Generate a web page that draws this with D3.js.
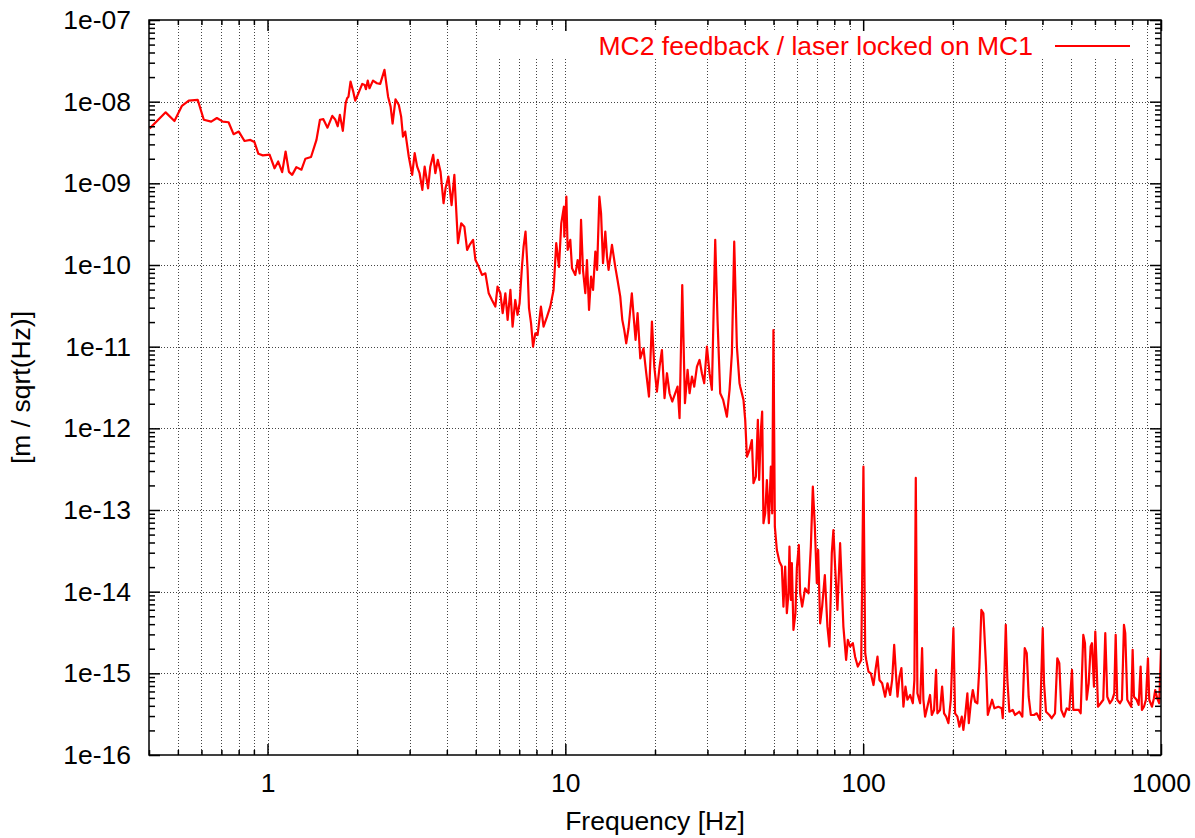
<!DOCTYPE html>
<html>
<head>
<meta charset="utf-8">
<script src="https://cdn.jsdelivr.net/npm/d3@7"></script>
<style>
  body { margin: 0; background: #fff; }
  svg { display: block; font-family: "Liberation Sans", Arial, sans-serif; }
</style>
</head>
<body>
<svg id="chart" width="1195" height="838"></svg>
<script>
// frequency [Hz] of each sample
const freq = [
  0.402, 0.455, 0.487, 0.516, 0.544, 0.583, 0.611, 0.647, 0.676, 0.708,
  0.740, 0.769, 0.801, 0.837, 0.876, 0.904, 0.932, 0.964, 1.016, 1.056,
  1.086, 1.12, 1.15, 1.18, 1.21, 1.25, 1.30, 1.34, 1.40, 1.46,
  1.50, 1.54, 1.59, 1.65, 1.69, 1.72, 1.75, 1.79, 1.83, 1.85,
  1.87, 1.90, 1.94, 1.97, 2.02, 2.08, 2.12, 2.14, 2.17, 2.20,
  2.26, 2.33, 2.39, 2.47, 2.54, 2.59, 2.63, 2.69, 2.76, 2.81,
  2.85, 2.90, 2.98, 3.06, 3.12, 3.18, 3.24, 3.31, 3.37, 3.46,
  3.52, 3.60, 3.66, 3.73, 3.81, 3.90, 3.96, 4.05, 4.15, 4.24,
  4.36, 4.47, 4.58, 4.68, 4.77, 4.90, 4.99, 5.12, 5.25, 5.39,
  5.53, 5.67, 5.82, 5.92, 6.05, 6.16, 6.29, 6.40, 6.54, 6.65,
  6.79, 6.91, 7.02, 7.15, 7.24, 7.35, 7.47, 7.55, 7.67, 7.79,
  7.93, 8.07, 8.28, 8.45, 8.68, 8.90, 9.13, 9.32, 9.52, 9.69,
  9.89, 9.92, 10.08, 10.18, 10.39, 10.53, 10.80, 11.00, 11.17, 11.29,
  11.46, 11.67, 11.82, 12.01, 12.20, 12.39, 12.61, 12.78, 13.01, 13.18,
  13.38, 13.62, 13.80, 13.97, 14.34, 14.71, 14.97, 15.29, 15.53, 15.77,
  16.01, 16.30, 16.72, 16.94, 17.21, 17.48, 17.85, 18.30, 18.69, 19.09,
  19.53, 19.89, 20.30, 20.72, 21.10, 21.53, 21.94, 22.38, 22.85, 23.39,
  23.81, 24.18, 24.69, 25.21, 25.73, 26.13, 26.61, 27.09, 27.66, 28.22,
  28.74, 29.26, 29.88, 30.49, 31.05, 31.86, 32.43, 33.11, 33.88, 34.87,
  35.59, 36.24, 36.90, 37.67, 38.44, 38.65, 39.64, 40.17, 40.70, 41.53,
  42.30, 42.82, 43.62, 44.30, 44.75, 45.35, 45.80, 46.26, 46.88, 47.50,
  48.24, 48.97, 49.49, 49.97, 50.52, 51.31, 52.36, 53.32, 53.99, 54.71,
  55.43, 56.13, 56.56, 57.18, 57.62, 58.33, 59.24, 59.88, 60.81, 61.43,
  62.39, 63.85, 65.51, 66.73, 67.76, 68.82, 69.89, 70.60, 71.70, 72.82,
  74.35, 75.86, 77.05, 78.46, 79.44, 80.50, 81.95, 83.67, 85.82, 87.65,
  88.81, 90.40, 92.33, 93.95, 95.93, 98.52, 100.2, 101.6, 102.4, 104.2,
  106.1, 108.3, 110.0, 111.7, 113.4, 115.8, 118.5, 120.7, 123.2, 125.1,
  127.1, 128.8, 130.4, 132.4, 134.4, 136.5, 138.7, 140.8, 143.8, 146.8,
  148.6, 150.2, 152.1, 155.3, 157.7, 159.3, 161.4, 164.3, 167.7, 170.0,
  173.0, 175.7, 177.5, 181.2, 184.1, 186.9, 189.9, 193.3, 196.9, 200.9,
  203.5, 207.2, 210.4, 214.3, 217.0, 220.4, 223.8, 226.3, 229.8, 233.4,
  237.6, 241.8, 245.6, 249.4, 253.3, 258.6, 262.1, 266.8, 270.9, 275.8,
  284.4, 291.9, 294.2, 297.2, 301.2, 304.9, 309.6, 317.9, 323.6, 334.5,
  342.3, 348.7, 354.2, 359.5, 365.5, 374.7, 382.6, 392.5, 400.8, 404.8,
  411.1, 421.9, 429.5, 440.7, 448.6, 455.6, 462.6, 472.5, 482.4, 492.2,
  502.5, 507.6, 518.3, 529.2, 537.4, 548.4, 555.6, 563.0, 571.8, 580.5,
  586.5, 595.6, 601.7, 608.1, 614.3, 627.3, 640.0, 650.0, 660.1, 673.8,
  686.1, 696.8, 704.4, 713.2, 728.2, 739.5, 751.0, 758.6, 770.5, 782.2,
  794.4, 803.1, 811.3, 828.3, 841.3, 854.3, 863.0, 876.5, 890.1, 904.0,
  913.2, 932.3, 946.8, 956.4, 971.3, 986.5, 1000
];

// amplitude spectral density [m / sqrt(Hz)]
const asd = [
  4.7e-9, 7.4e-9, 5.8e-9, 8.9e-9, 1.03e-8, 1.05e-8, 6.0e-9, 5.7e-9, 6.3e-9, 5.7e-9,
  5.6e-9, 4.0e-9, 4.3e-9, 3.3e-9, 3.4e-9, 3.2e-9, 2.3e-9, 2.2e-9, 2.25e-9, 1.53e-9,
  1.85e-9, 1.37e-9, 2.45e-9, 1.38e-9, 1.27e-9, 1.58e-9, 1.47e-9, 2.0e-9, 2.1e-9, 3.4e-9,
  6.0e-9, 6.1e-9, 4.8e-9, 6.7e-9, 6.0e-9, 5.0e-9, 6.9e-9, 4.4e-9, 9.6e-9, 1.10e-8,
  1.15e-8, 1.76e-8, 1.33e-8, 1.03e-8, 1.27e-8, 1.65e-8, 1.60e-8, 1.42e-8, 1.81e-8, 1.46e-8,
  1.81e-8, 1.68e-8, 1.65e-8, 2.45e-8, 1.15e-8, 8.7e-9, 5.4e-9, 1.07e-8, 9.1e-9, 6.56e-9,
  3.73e-9, 4.30e-9, 2.13e-9, 1.27e-9, 2.34e-9, 1.60e-9, 1.33e-9, 8.3e-10, 1.60e-9, 8.7e-10,
  1.60e-9, 2.23e-9, 1.33e-9, 1.94e-9, 1.39e-9, 5.7e-10, 8.7e-10, 1.21e-9, 5.4e-10, 1.27e-9,
  1.85e-10, 3.24e-10, 2.95e-10, 1.53e-10, 1.76e-10, 2.03e-10, 1.15e-10, 9.5e-11, 7.55e-11, 7.9e-11,
  4.5e-11, 3.73e-11, 3.1e-11, 5.43e-11, 4.51e-11, 2.57e-11, 4.51e-11, 2.13e-11, 4.95e-11, 1.76e-11,
  3.73e-11, 2.45e-11, 3.40e-11, 9.5e-11, 1.68e-10, 2.57e-10, 8.7e-11, 2.96e-11, 1.94e-11, 1.0e-11,
  1.46e-11, 1.39e-11, 3.09e-11, 1.76e-11, 2.33e-11, 3.09e-11, 4.95e-11, 1.85e-10, 9.5e-11, 3.24e-10,
  5.17e-10, 2.22e-10, 6.86e-10, 1.53e-10, 2.03e-10, 9.1e-11, 7.55e-11, 1.15e-10, 7.9e-11, 3.56e-10,
  8.7e-11, 4.51e-11, 1.15e-10, 2.82e-11, 7.2e-11, 4.95e-11, 1.46e-10, 8.7e-11, 6.86e-10, 4.30e-10,
  1.05e-10, 2.57e-10, 1.27e-10, 8.7e-11, 1.76e-10, 9.5e-11, 6.56e-11, 4.1e-11, 2.13e-11, 1.60e-11,
  1.10e-11, 1.68e-11, 4.51e-11, 2.45e-11, 1.21e-11, 2.57e-11, 7.2e-12, 9.56e-12, 4.73e-12, 2.45e-12,
  2.03e-11, 5.69e-12, 2.82e-12, 5.69e-12, 9.1e-12, 2.34e-12, 4.73e-12, 2.69e-12, 2.13e-12, 2.69e-12,
  3.24e-12, 1.33e-12, 5.69e-11, 2.03e-12, 5.2e-12, 2.69e-12, 4.30e-12, 3.24e-12, 5.69e-12, 6.88e-12,
  4.73e-12, 3.57e-12, 1.0e-11, 4.73e-12, 2.96e-12, 2.03e-10, 2.13e-11, 2.69e-12, 2.23e-12, 1.39e-12,
  2.96e-12, 8.3e-12, 1.93e-10, 1.0e-11, 3.57e-12, 3.24e-12, 2.23e-12, 1.27e-12, 4.49e-13, 5.43e-13,
  7.19e-13, 2.13e-13, 2.57e-13, 1.27e-12, 2.33e-13, 9.5e-13, 1.60e-12, 6.88e-14, 9.1e-14, 2.33e-13,
  6.88e-14, 3.39e-13, 9.1e-14, 1.60e-11, 6.25e-14, 3.24e-14, 2.33e-14, 2.03e-14, 6.56e-15, 2.03e-14,
  5.44e-15, 9.56e-15, 3.56e-14, 7.92e-15, 2.23e-14, 3.40e-15, 5.44e-15, 1.94e-14, 3.73e-14, 9.56e-15,
  6.56e-15, 1.10e-14, 9.56e-15, 3.56e-14, 1.93e-13, 6.25e-14, 1.27e-14, 3.24e-14, 4.1e-15, 6.56e-15,
  1.60e-14, 3.73e-15, 2.13e-15, 2.96e-14, 5.69e-14, 2.03e-14, 5.97e-15, 3.92e-14, 3.73e-15, 1.46e-15,
  2.57e-15, 2.13e-15, 2.34e-15, 1.60e-15, 1.21e-15, 1.46e-15, 3.39e-13, 1.76e-15, 1.46e-15, 1.05e-15,
  1.0e-15, 7.19e-16, 1.10e-15, 1.60e-15, 8.3e-16, 7.55e-16, 5.17e-16, 7.55e-16, 5.43e-16, 8.3e-16,
  2.23e-15, 1.0e-15, 5.17e-16, 9.1e-16, 1.16e-15, 3.9e-16, 6.86e-16, 4.75e-16, 5.43e-16, 4.30e-16,
  8.3e-16, 2.47e-13, 5.69e-16, 4.30e-16, 2.03e-15, 4.75e-16, 2.95e-16, 3.9e-16, 5.43e-16, 3.09e-16,
  3.56e-16, 1.10e-15, 3.24e-16, 3.56e-16, 6.86e-16, 3.24e-16, 2.95e-16, 2.45e-16, 4.75e-16, 3.57e-15,
  3.24e-16, 2.95e-16, 2.22e-16, 2.95e-16, 2.03e-16, 3.24e-16, 5.69e-16, 2.45e-16, 4.30e-16, 6.25e-16,
  4.49e-16, 4.30e-16, 1.21e-15, 5.97e-15, 5.44e-15, 1.21e-15, 3.09e-16, 3.9e-16, 4.75e-16, 3.73e-16,
  3.9e-16, 3.73e-16, 2.82e-16, 6.86e-16, 3.92e-15, 8.3e-16, 3.39e-16, 3.56e-16, 3.09e-16, 3.39e-16,
  2.95e-16, 2.03e-15, 1.76e-15, 5.17e-16, 3.09e-16, 3.09e-16, 3.24e-16, 2.69e-16, 3.57e-15, 7.55e-16,
  3.39e-16, 3.09e-16, 2.82e-16, 3.24e-16, 1.53e-15, 1.33e-15, 3.56e-16, 2.95e-16, 3.73e-16, 3.56e-16,
  1.10e-15, 3.56e-16, 3.56e-16, 3.56e-16, 3.24e-16, 2.96e-15, 2.34e-15, 4.75e-16, 7.55e-16, 2.13e-15,
  2.34e-15, 6.86e-16, 3.24e-15, 1.21e-15, 3.9e-16, 4.30e-16, 4.75e-16, 3.1e-15, 5.17e-16, 4.30e-16,
  4.75e-16, 5.69e-16, 2.96e-15, 4.75e-16, 4.30e-16, 4.75e-16, 3.92e-15, 3.1e-15, 4.75e-16, 4.30e-16,
  3.9e-16, 1.94e-15, 5.17e-16, 4.75e-16, 4.1e-16, 1.21e-15, 3.56e-16, 3.9e-16, 4.75e-16, 1.53e-15,
  4.75e-16, 3.9e-16, 4.95e-16, 6.25e-16, 4.95e-16, 4.30e-16, 1.94e-15
];

const xDomain = [0.4, 1000];
const yDomain = [1e-16, 1e-7];
const xMajor = [1, 10, 100, 1000];
const xLabels = ['1', '10', '100', '1000'];
const yMajor = [1e-16, 1e-15, 1e-14, 1e-13, 1e-12, 1e-11, 1e-10, 1e-9, 1e-8, 1e-7];
const yLabels = ['1e-16', '1e-15', '1e-14', '1e-13', '1e-12', '1e-11', '1e-10', '1e-09', '1e-08', '1e-07'];
const seriesName = 'MC2 feedback / laser locked on MC1';
const xTitle = 'Frequency [Hz]';
const yTitle = '[m / sqrt(Hz)]';

const width = 1195, height = 838;
const margin = { top: 20, right: 34, bottom: 83, left: 149 };
const plot = {
  left: margin.left, right: width - margin.right,
  top: margin.top, bottom: height - margin.bottom
};
const fontSize = 26.5;

const svg = d3.select('#chart');

const x = d3.scaleLog().domain(xDomain).range([plot.left, plot.right]);
const y = d3.scaleLog().domain(yDomain).range([plot.bottom, plot.top]);

// log ticks: every 1..9 x 10^k in range; split majors from minors
const isDecade = (v) => Math.abs(Math.log10(v) - Math.round(Math.log10(v))) < 1e-6;
const xMinor = x.ticks().filter((v) => !isDecade(v));
const yMinor = y.ticks().filter((v) => !isDecade(v));

// grid: verticals at every x tick, horizontals at decades only
const grid = svg.append('g').attr('stroke', '#444').attr('stroke-width', 1)
  .attr('stroke-dasharray', '1,2');
grid.selectAll('line.gx')
  .data(x.ticks().filter((v) => v > xDomain[0] && v < xDomain[1]))
  .join('line')
  .attr('x1', (d) => Math.round(x(d)) + 0.5).attr('x2', (d) => Math.round(x(d)) + 0.5)
  .attr('y1', plot.top).attr('y2', plot.bottom);
grid.selectAll('line.gy')
  .data(yMajor.slice(1, -1))
  .join('line')
  .attr('x1', plot.left).attr('x2', plot.right)
  .attr('y1', (d) => Math.round(y(d)) + 0.5).attr('y2', (d) => Math.round(y(d)) + 0.5);

// key box blanks the grid behind it
svg.append('rect')
  .attr('x', 488).attr('y', 30).attr('width', 652).attr('height', 28)
  .attr('fill', '#fff');

// data line
svg.append('clipPath').attr('id', 'clip')
  .append('rect')
  .attr('x', plot.left).attr('y', plot.top)
  .attr('width', plot.right - plot.left).attr('height', plot.bottom - plot.top);

const points = freq.map((f, i) => ({ f, v: asd[i] }));
const line = d3.line().x((d) => x(d.f)).y((d) => y(d.v));
svg.append('path')
  .datum(points)
  .attr('clip-path', 'url(#clip)')
  .attr('fill', 'none')
  .attr('stroke', '#ff0000')
  .attr('stroke-width', 2.2)
  .attr('stroke-linejoin', 'round')
  .attr('d', line);

// axes (ticks point inward on all four sides)
function styleAxis(g) {
  g.select('.domain').remove();
  g.attr('font-family', '"Liberation Sans", Arial, sans-serif')
    .attr('font-size', fontSize);
  g.selectAll('.tick line').attr('stroke', '#000').attr('stroke-width', 1.5);
  g.selectAll('.tick text').attr('fill', '#000');
}

const fmtX = (d) => xLabels[xMajor.indexOf(d)];
const fmtY = (d) => yLabels[yMajor.findIndex((v) => Math.abs(v - d) / v < 1e-6)];

svg.append('g').attr('transform', `translate(0,${plot.bottom})`)
  .call(d3.axisBottom(x).tickValues(xMajor).tickSize(-11).tickPadding(18).tickFormat(fmtX))
  .call(styleAxis);
svg.append('g').attr('transform', `translate(0,${plot.bottom})`)
  .call(d3.axisBottom(x).tickValues(xMinor).tickSize(-5).tickFormat(''))
  .call(styleAxis);
svg.append('g').attr('transform', `translate(0,${plot.top})`)
  .call(d3.axisTop(x).tickValues(xMajor).tickSize(-11).tickFormat(''))
  .call(styleAxis);
svg.append('g').attr('transform', `translate(0,${plot.top})`)
  .call(d3.axisTop(x).tickValues(xMinor).tickSize(-5).tickFormat(''))
  .call(styleAxis);

svg.append('g').attr('transform', `translate(${plot.left},0)`)
  .call(d3.axisLeft(y).tickValues(yMajor).tickSize(-11).tickPadding(18).tickFormat(fmtY))
  .call(styleAxis);
svg.append('g').attr('transform', `translate(${plot.left},0)`)
  .call(d3.axisLeft(y).tickValues(yMinor).tickSize(-6).tickFormat(''))
  .call(styleAxis);
svg.append('g').attr('transform', `translate(${plot.right},0)`)
  .call(d3.axisRight(y).tickValues(yMajor).tickSize(-11).tickFormat(''))
  .call(styleAxis);
svg.append('g').attr('transform', `translate(${plot.right},0)`)
  .call(d3.axisRight(y).tickValues(yMinor).tickSize(-6).tickFormat(''))
  .call(styleAxis);

// frame
svg.append('rect')
  .attr('x', plot.left).attr('y', plot.top)
  .attr('width', plot.right - plot.left).attr('height', plot.bottom - plot.top)
  .attr('fill', 'none').attr('stroke', '#000').attr('stroke-width', 1.5);

// key
svg.append('text')
  .attr('x', 1033).attr('y', 55)
  .attr('text-anchor', 'end')
  .attr('font-size', fontSize)
  .attr('fill', '#ff0000')
  .text(seriesName);
svg.append('line')
  .attr('x1', 1055).attr('x2', 1130).attr('y1', 46).attr('y2', 46)
  .attr('stroke', '#ff0000').attr('stroke-width', 2);

// titles
svg.append('text')
  .attr('x', (plot.left + plot.right) / 2).attr('y', 830)
  .attr('text-anchor', 'middle')
  .attr('font-size', fontSize)
  .text(xTitle);
svg.append('text')
  .attr('transform', `translate(30,${(plot.top + plot.bottom) / 2}) rotate(-90)`)
  .attr('text-anchor', 'middle')
  .attr('font-size', fontSize)
  .text(yTitle);
</script>
</body>
</html>
